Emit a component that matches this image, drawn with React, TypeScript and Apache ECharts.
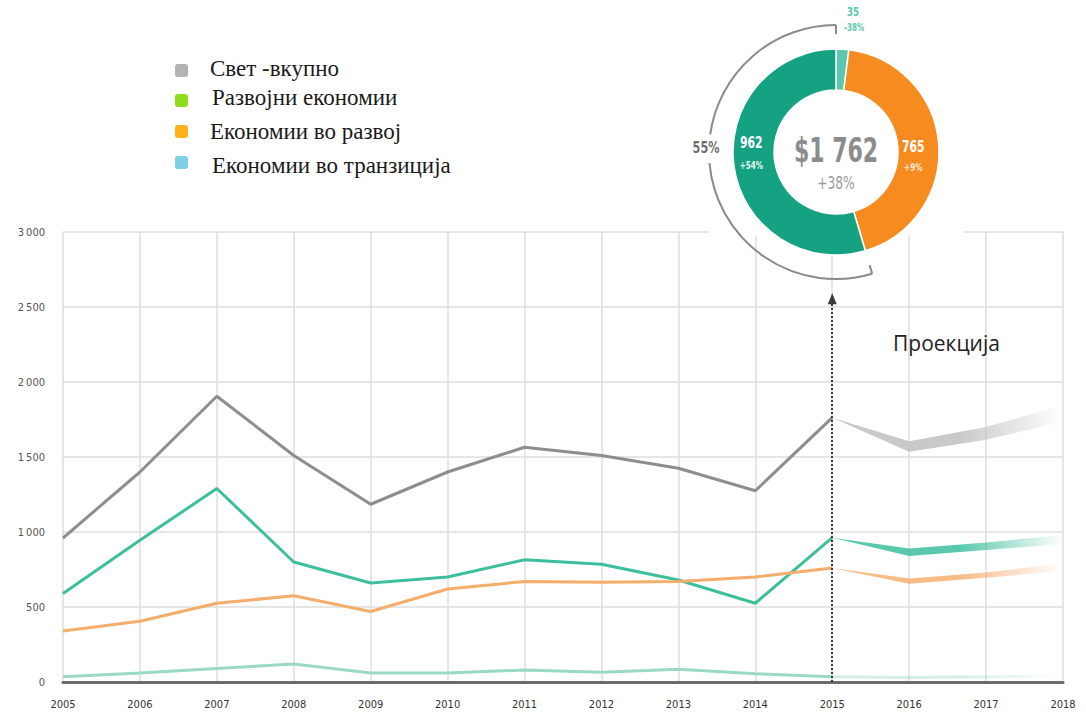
import React, { useEffect, useRef } from "react";
import * as echarts from "echarts";

const years = ["2005","2006","2007","2008","2009","2010","2011","2012","2013","2014","2015","2016","2017","2018"];
const worldActual = [960, 1400, 1905, 1510, 1185, 1400, 1565, 1510, 1425, 1275, 1762];
const developedActual = [590, 945, 1290, 800, 660, 700, 815, 785, 680, 525, 962];
const developingActual = [340, 405, 525, 575, 470, 620, 670, 665, 670, 700, 760];
const transitionActual = [35, 60, 90, 120, 60, 60, 80, 65, 85, 55, 35];

// projections 2015..2018 (band low / high)
const worldLow = [1762, 1535, 1615, 1735];
const worldHigh = [1762, 1605, 1700, 1845];
const developedLow = [962, 840, 880, 920];
const developedHigh = [962, 890, 930, 980];
const developingLow = [760, 655, 695, 740];
const developingHigh = [760, 690, 730, 790];
const transitionProj = [35, 30, 35, 40];

const legendNames = ["Свет -вкупно", "Развојни економии", "Економии во развој", "Економии во транзиција"];
const legendColors = ["#b3b3b3", "#8ddc1e", "#ffb21a", "#7fcfe8"];

const donutNames = ["Економии во транзиција", "Економии во развој", "Развојни економии"];
const donutValues = [35, 765, 962];
const donutChanges = ["-38%", "+9%", "+54%"];
const donutColors = ["#5dc6ae", "#f68b1f", "#14a283"];
const totalLabel = "$1 762";
const totalChange = "+38%";
const developedShare = "55%";

const pad = (arr: number[]) => [...Array(10).fill("-"), ...arr];
const diff = (hi: number[], lo: number[]) => hi.map((v, i) => v - lo[i]);

const fadeGrad = (rgb: string, a: number) =>
  new echarts.graphic.LinearGradient(0, 0, 1, 0, [
    { offset: 0, color: `rgba(${rgb},${a})` },
    { offset: 0.55, color: `rgba(${rgb},${a})` },
    { offset: 1, color: `rgba(${rgb},0)` },
  ]);

const NARROW = "'Liberation Sans Narrow', 'DejaVu Sans Condensed', 'Roboto', sans-serif";

export default function App() {
  const ref = useRef<HTMLDivElement>(null);
  useEffect(() => {
    if (!ref.current) return;
    const chart = echarts.init(ref.current, undefined, { renderer: "svg" });

    const cx = 836, cy = 152, r0 = 62, r1 = 103, rArc = 127;
    const total = donutValues.reduce((a, b) => a + b, 0);
    const a0 = (donutValues[0] / total) * 360;
    const a1 = a0 + (donutValues[1] / total) * 360;
    const toScreen = (deg: number) => ((deg - 90) * Math.PI) / 180;
    const labelPos = (startDeg: number, endDeg: number) => {
      const mid = ((startDeg + endDeg) / 2) * Math.PI / 180;
      const rm = (r0 + r1) / 2;
      return [cx + rm * Math.sin(mid), cy - rm * Math.cos(mid)];
    };
    const pGreen = labelPos(a1, 360);
    const pOrange = labelPos(a0, a1);

    const bandSeries = (name: string, lo: number[], hi: number[], rgb: string, a: number) => [
      {
        type: "line", name: name + "-lo", stack: name, data: pad(lo), symbol: "none",
        lineStyle: { opacity: 0 }, silent: true, z: 1,
      },
      {
        type: "line", name: name + "-band", stack: name, data: pad(diff(hi, lo)), symbol: "none",
        lineStyle: { opacity: 0 }, areaStyle: { color: fadeGrad(rgb, a), opacity: 1 }, silent: true, z: 1,
      },
    ];

    const txt = (x: number, y: number, text: string, fill: string, font: string, sx = 0.82, align = "center") => ({
      type: "text", z: 10, x, y, scaleX: sx,
      style: { text, fill, font, align, verticalAlign: "middle" },
    });

    const option: any = {
      animation: false,
      grid: { left: 63, right: 23, top: 232, bottom: 35 },
      xAxis: {
        type: "category", data: years, boundaryGap: false,
        axisLine: { show: true, lineStyle: { color: "#6b6b6b", width: 3 } },
        axisTick: { show: false },
        axisLabel: { color: "#333", fontFamily: NARROW, fontSize: 11, margin: 17 },
        splitLine: { show: true, lineStyle: { color: "#dedede", width: 1.5 } },
      },
      yAxis: {
        type: "value", min: 0, max: 3000, interval: 500,
        axisLine: { show: false }, axisTick: { show: false },
        axisLabel: {
          color: "#555", fontFamily: NARROW, fontSize: 11, margin: 18,
          formatter: (v: number) => (v >= 1000 ? `${Math.floor(v / 1000)}\u2009${String(v % 1000).padStart(3, "0")}` : String(v)),
        },
        splitLine: { show: true, lineStyle: { color: "#dedede", width: 1.5 } },
      },
      series: [
        ...bandSeries("world", worldLow, worldHigh, "195,195,195", 0.9),
        ...bandSeries("developed", developedLow, developedHigh, "61,190,158", 0.85),
        ...bandSeries("developing", developingLow, developingHigh, "245,165,95", 0.75),
        {
          type: "line", name: "transition-proj", data: pad(transitionProj), symbol: "none",
          lineStyle: { width: 3, color: fadeGrad("170,222,205", 0.5) }, silent: true, z: 1,
        },
        {
          type: "line", name: legendNames[0], data: worldActual, symbol: "none",
          lineStyle: { color: "#8e8e8e", width: 3 }, z: 3,
          markLine: {
            silent: true, symbol: ["none", "triangle"], symbolSize: [9, 11],
            label: { show: false },
            lineStyle: { color: "#3a3a3a", type: "dotted", width: 2 },
            data: [[{ coord: ["2015", 0] }, { coord: ["2015", 2555] }]],
          },
        },
        { type: "line", name: legendNames[1], data: developedActual, symbol: "none", lineStyle: { color: "#3dbf9e", width: 3 }, z: 3 },
        { type: "line", name: legendNames[2], data: developingActual, symbol: "none", lineStyle: { color: "#f4ad6a", width: 3 }, z: 3 },
        { type: "line", name: legendNames[3], data: transitionActual, symbol: "none", lineStyle: { color: "#9ad9c4", width: 3 }, z: 3 },
        {
          type: "pie", center: [cx, cy], radius: [r0, r1], startAngle: 90, clockwise: true,
          label: { show: false }, labelLine: { show: false }, silent: true, z: 4,
          itemStyle: { borderColor: "#fff", borderWidth: 1.5 },
          data: donutValues.map((v, i) => ({ name: donutNames[i], value: v, itemStyle: { color: donutColors[i] } })),
        },
      ],
      graphic: [
        { type: "rect", z: 1, shape: { x: 709, y: 0, width: 255, height: 236 }, style: { fill: "#fff" } },
        {
          type: "arc", z: 5,
          shape: { cx, cy, r: rArc, startAngle: toScreen(a1), endAngle: toScreen(265), clockwise: true },
          style: { stroke: "#8a8a8a", lineWidth: 2, fill: null },
        },
        {
          type: "arc", z: 5,
          shape: { cx, cy, r: rArc, startAngle: toScreen(278), endAngle: toScreen(360), clockwise: true },
          style: { stroke: "#8a8a8a", lineWidth: 2, fill: null },
        },
        {
          type: "line", z: 5,
          shape: { x1: cx, y1: cy - rArc, x2: cx, y2: cy - rArc + 9 },
          style: { stroke: "#8a8a8a", lineWidth: 2 },
        },
        {
          type: "line", z: 5,
          shape: {
            x1: cx + rArc * Math.sin((a1 * Math.PI) / 180), y1: cy - rArc * Math.cos((a1 * Math.PI) / 180),
            x2: cx + (rArc - 9) * Math.sin((a1 * Math.PI) / 180), y2: cy - (rArc - 9) * Math.cos((a1 * Math.PI) / 180),
          },
          style: { stroke: "#8a8a8a", lineWidth: 2 },
        },
        txt(706, 147, developedShare, "#6f6f6f", `bold 16px ${NARROW}`, 0.78),
        txt(cx, cy - 1, totalLabel, "#8c8c8c", `bold 34px ${NARROW}`, 0.72),
        txt(cx, cy + 31, totalChange, "#9a9a9a", `17px ${NARROW}`, 0.8),
        txt(pGreen[0] - 3, 142, String(donutValues[2]), "#fff", `bold 16px ${NARROW}`, 0.75),
        txt(pGreen[0] - 3, 166, donutChanges[2], "#e8f7f2", `bold 10px ${NARROW}`, 0.8),
        txt(pOrange[0] - 5, 146, String(donutValues[1]), "#fff", `bold 16px ${NARROW}`, 0.75),
        txt(pOrange[0] - 5, 168, donutChanges[1], "#fdebd8", `bold 10px ${NARROW}`, 0.8),
        txt(853, 12, String(donutValues[0]), "#5dc6ae", `bold 12px ${NARROW}`, 0.8),
        txt(854, 28, donutChanges[0], "#5dc6ae", `bold 10px ${NARROW}`, 0.8),
        {
          type: "text", z: 10, x: 893, y: 343,
          style: { text: "Проекција", fill: "#222", font: "21px 'Open Sans', 'Noto Sans', sans-serif", align: "left", verticalAlign: "middle" },
        },
        ...legendNames.flatMap((n, i) => {
          const iy = [70, 100, 131, 162][i];
          const ty = [68, 97, 131, 165][i];
          const tx = [210, 212, 210, 212][i];
          return [
            { type: "rect", z: 10, shape: { x: 175, y: iy - 6, width: 13, height: 13, r: 3 }, style: { fill: legendColors[i] } },
            {
              type: "text", z: 10, x: tx, y: ty,
              style: { text: n, fill: "#1a1a1a", font: "23px 'Liberation Serif', 'DejaVu Serif', serif", align: "left", verticalAlign: "middle" },
            },
          ];
        }),
      ],
    };
    chart.setOption(option);
    return () => chart.dispose();
  }, []);
  return <div ref={ref} style={{ position: "fixed", left: 0, top: 0, width: 1086, height: 717, background: "#fff" }} />;
}
